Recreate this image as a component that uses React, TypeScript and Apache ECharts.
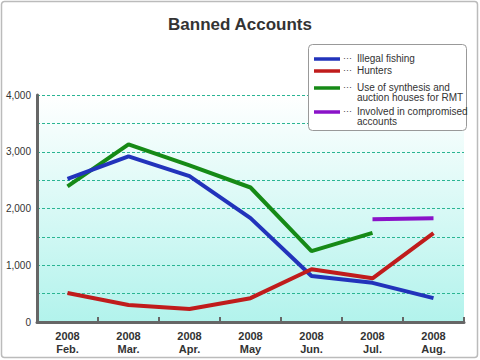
import React, { useEffect, useRef } from "react";
import * as echarts from "echarts";

const categories = ["2008\nFeb.", "2008\nMar.", "2008\nApr.", "2008\nMay", "2008\nJun.", "2008\nJul.", "2008\nAug."];
const illegalFishing = [2520, 2920, 2570, 1830, 810, 690, 420];
const hunters = [510, 300, 230, 420, 930, 770, 1565];
const synthesisRMT: (number | null)[] = [2390, 3130, 2760, 2370, 1250, 1570, null];
const compromised: (number | null)[] = [null, null, null, null, null, 1810, 1830];

const seriesNames = ["Illegal fishing", "Hunters", "Use of synthesis and\nauction houses for RMT", "Involved in compromised\naccounts"];
const colors = ["#2233bb", "#c01c1c", "#168a16", "#8a12c8"];

const FONT = "'Liberation Sans', Arial, sans-serif";

export default function App() {
  const ref = useRef<HTMLDivElement>(null);
  useEffect(() => {
    if (!ref.current) return;
    const chart = echarts.init(ref.current, undefined, { renderer: "svg" });
    const legendYs = [59, 71, 88, 112];
    const legendGraphics: any[] = [
      {
        type: "rect",
        shape: { x: 308.5, y: 44.5, width: 158, height: 86, r: 4 },
        style: { fill: "#fff", stroke: "#999", lineWidth: 1 },
        z: 10,
      },
    ];
    seriesNames.forEach((n, i) => {
      const y = legendYs[i];
      legendGraphics.push({
        type: "line",
        shape: { x1: 314, y1: y, x2: 340, y2: y },
        style: { stroke: colors[i], lineWidth: 3.5 },
        z: 11,
      });
      legendGraphics.push({
        type: "text",
        x: 343,
        y: y - 6,
        style: { text: "···", fill: "#444", font: "9px " + FONT },
        z: 11,
      });
      legendGraphics.push({
        type: "text",
        x: 357,
        y: y - 6,
        style: { text: n, fill: "#333", font: "10px " + FONT, lineHeight: 10 },
        z: 11,
      });
    });

    const mk = (name: string, data: (number | null)[], color: string, z: number) => ({
      name,
      type: "line",
      data,
      symbol: "none",
      smooth: false,
      connectNulls: false,
      lineStyle: { color, width: 4 },
      itemStyle: { color },
      z,
    });

    chart.setOption({
      animation: false,
      title: {
        text: "Banned Accounts",
        left: "center",
        top: 11,
        textStyle: { fontSize: 17, fontWeight: "bold", color: "#333", fontFamily: FONT },
      },
      grid: {
        left: 37,
        right: 16,
        top: 95,
        bottom: 38,
        show: true,
        borderWidth: 0,
        backgroundColor: new echarts.graphic.LinearGradient(0, 0, 0, 1, [
          { offset: 0, color: "#ffffff" },
          { offset: 1, color: "#b2f3ec" },
        ]),
      },
      xAxis: {
        type: "category",
        data: categories,
        boundaryGap: true,
        axisLine: { lineStyle: { color: "#666", width: 3 } },
        axisTick: { show: true, inside: true, length: 5, interval: 0, lineStyle: { color: "#666", width: 2 } },
        axisLabel: { color: "#333", fontSize: 11, fontWeight: "bold", lineHeight: 13, margin: 7, interval: 0, fontFamily: FONT },
        splitLine: { show: false },
      },
      yAxis: {
        type: "value",
        min: 0,
        max: 4000,
        interval: 500,
        axisLine: { show: true, lineStyle: { color: "#666", width: 3 } },
        axisTick: { show: false },
        axisLabel: {
          color: "#333",
          fontSize: 10,
          margin: 6,
          fontFamily: FONT,
          formatter: (v: number) => (v % 1000 === 0 ? v.toLocaleString("en-US") : ""),
        },
        splitLine: { show: true, lineStyle: { color: "#2ab593", type: [3, 2], width: 1 } },
      },
      series: [
        mk(seriesNames[2], synthesisRMT, colors[2], 2),
        mk(seriesNames[0], illegalFishing, colors[0], 3),
        mk(seriesNames[1], hunters, colors[1], 4),
        mk(seriesNames[3], compromised, colors[3], 5),
      ],
      graphic: [
        {
          type: "rect",
          shape: { x: 1.5, y: 1.5, width: 476, height: 356, r: 3 },
          style: { fill: "none", stroke: "#bbb", lineWidth: 1.5 },
          silent: true,
          z: 20,
        },
        ...legendGraphics,
      ],
    });
    return () => chart.dispose();
  }, []);
  return <div ref={ref} style={{ width: 480, height: 360, position: "absolute", left: 0, top: 0 }} />;
}
